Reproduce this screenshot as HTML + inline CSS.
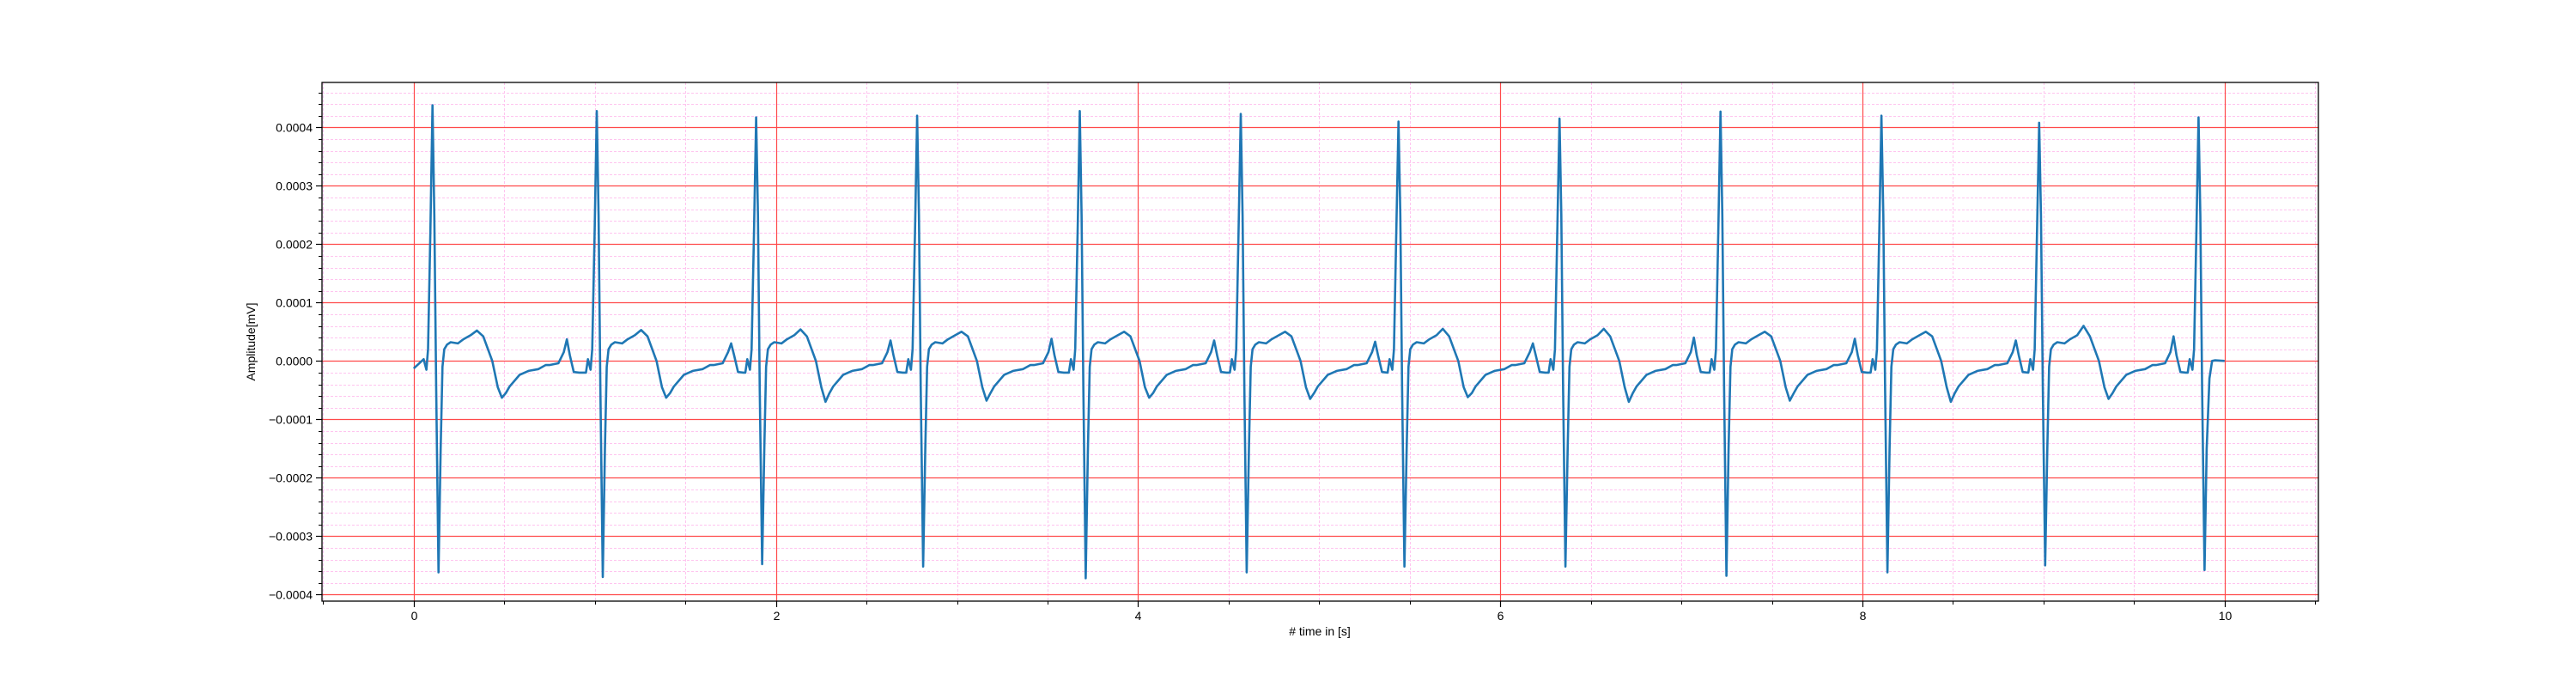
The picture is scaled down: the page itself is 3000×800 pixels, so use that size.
<!DOCTYPE html>
<html><head><meta charset="utf-8"><style>
html,body{margin:0;padding:0;background:#fff}
svg{display:block}
text{font-family:"Liberation Sans","DejaVu Sans",sans-serif;font-size:14px;fill:#000}
</style></head><body>
<svg id="chart" width="3000" height="800" viewBox="0 0 3000 800" xmlns="http://www.w3.org/2000/svg">
<rect x="0" y="0" width="3000" height="800" fill="#fff"/>
<g id="grid"></g>
<g id="series"></g>
<rect x="375" y="96" width="2325" height="604" fill="none" stroke="#000" stroke-width="1.3"/>
<g id="axes"></g>
<text x="1537" y="740" text-anchor="middle"># time in [s]</text>
<text x="297" y="398" text-anchor="middle" transform="rotate(-90 297 398)">Amplitude[mV]</text>
</svg>
<script>
// data
const rTimes = [0.104,1.011,1.891,2.78,3.678,4.567,5.438,6.327,7.216,8.105,8.976,9.856];
const rAmps = [4.38,4.28,4.17,4.2,4.28,4.23,4.1,4.15,4.27,4.2,4.08,4.17];
const sAmps = [-3.62,-3.7,-3.48,-3.52,-3.72,-3.62,-3.52,-3.52,-3.68,-3.62,-3.5,-3.58];
const tAmps = [0.52,0.53,0.54,0.5,0.5,0.5,0.55,0.55,0.5,0.5,0.6];
const tTroughs = [-0.63,-0.63,-0.7,-0.68,-0.63,-0.65,-0.62,-0.7,-0.68,-0.7,-0.65];
const pAmps = [0.37,0.3,0.35,0.38,0.35,0.33,0.3,0.4,0.38,0.35,0.42];
const xTicks = [0,2,4,6,8,10];
const xTickLabels = ["0","2","4","6","8","10"];
const yTicks = [-4,-3,-2,-1,0,1,2,3,4];
const yTickLabels = ["\u22120.0004","\u22120.0003","\u22120.0002","\u22120.0001","0.0000","0.0001","0.0002","0.0003","0.0004"];
// shape template: [time offset from R, value (1e-4)]
const template = [[-0.06,-0.2],[-0.049,0.03],[-0.034,-0.15],[-0.025,0.2],[-0.012,2.2],[0,'R'],[0.01,2.5],[0.02,-0.5],[0.033,'S'],[0.045,-1.5],[0.055,-0.1],[0.065,0.2],[0.08,0.28],[0.1,0.32],[0.14,0.3],[0.17,0.37],[0.21,0.44],[0.245,'T'],[0.28,0.42],[0.33,0],[0.36,-0.45],[0.383,'U'],[0.405,-0.55],[0.425,-0.44],[0.48,-0.24],[0.53,-0.17],[0.585,-0.14],[0.625,-0.07],[0.645,-0.07],[0.695,-0.04],[0.725,0.15],[0.742,'P'],[0.758,0.1],[0.78,-0.19],[0.81,-0.2]];

const L=375,R=2700,T=96,B=700;
const X0=481.8,XS=210.9,Y0=420.3,YS=68;
const sx=t=>X0+t*XS, sy=v=>Y0-v*YS;
const px=v=>Math.round(v)+0.5;
const NS="http://www.w3.org/2000/svg";
function mk(tag,attrs,parent){const e=document.createElementNS(NS,tag);for(const k in attrs)e.setAttribute(k,attrs[k]);parent.appendChild(e);return e;}
const grid=document.getElementById('grid'),axes=document.getElementById('axes'),series=document.getElementById('series');

for(let i=-1;i<=21;i++){ if(i%4===0)continue; const x=px(sx(i*0.5)); if(x<L||x>R)continue;
  const l=mk('line',{x1:x,x2:x,y1:T,y2:B,stroke:'#ffc4ef','stroke-width':1,'stroke-dasharray':'3,2'},grid);
   
  const tk=mk('line',{x1:x,x2:x,y1:B,y2:B+4,stroke:'#000','stroke-width':1},axes);
   
}
for(let i=-20;i<=23;i++){ if(i%5===0)continue; const y=px(sy(i*0.2)); if(y<T||y>B)continue;
  const l=mk('line',{x1:L,x2:R,y1:y,y2:y,stroke:'#ffc4ef','stroke-width':1,'stroke-dasharray':'3,2'},grid);
   
  const tk=mk('line',{x1:L-4,x2:L,y1:y,y2:y,stroke:'#000','stroke-width':1},axes);
   
}
xTicks.forEach((t,i)=>{const x=px(sx(t));
  const l=mk('line',{x1:x,x2:x,y1:T,y2:B,stroke:'#ff4a4a','stroke-width':1.2},grid);
   
  const tk=mk('line',{x1:x,x2:x,y1:B,y2:B+7,stroke:'#000','stroke-width':1.2},axes);
   
  const tx=mk('text',{x:x,y:B+22,'text-anchor':'middle'},axes); tx.textContent=xTickLabels[i];
   
});
yTicks.forEach((v,i)=>{const y=px(sy(v));
  const l=mk('line',{x1:L,x2:R,y1:y,y2:y,stroke:'#ff4a4a','stroke-width':1.2},grid);
   
  const tk=mk('line',{x1:L-7,x2:L,y1:y,y2:y,stroke:'#000','stroke-width':1.2},axes);
   
  const tx=mk('text',{x:L-11,y:y+5,'text-anchor':'end'},axes); tx.textContent=yTickLabels[i];
   
});
const pts=[[0,-0.13]];
rTimes.forEach((rt,b)=>{
  const last=b===rTimes.length-1;
  template.forEach(([dt,v])=>{
    if(b===0&&dt<-0.05)return;
    if(last&&dt>0.05)return;
    let val=v;
    if(v==='R')val=rAmps[b]; else if(v==='S')val=sAmps[b];
    else if(v==='T')val=tAmps[b]; else if(v==='U')val=tTroughs[b]; else if(v==='P')val=pAmps[b];
    pts.push([rt+dt,val]);
  });
  if(last){pts.push([rt+0.06,-0.3]);pts.push([rt+0.075,0]);pts.push([rt+0.09,0.01]);pts.push([10,0]);}
});
const d=pts.map((p,i)=>(i?'L':'M')+sx(p[0]).toFixed(1)+','+sy(p[1]).toFixed(1)).join(' ');
const path=mk('path',{d:d,fill:'none',stroke:'#1f77b4','stroke-width':2.6,'stroke-linejoin':'round'},series);


</script>
</body></html>
